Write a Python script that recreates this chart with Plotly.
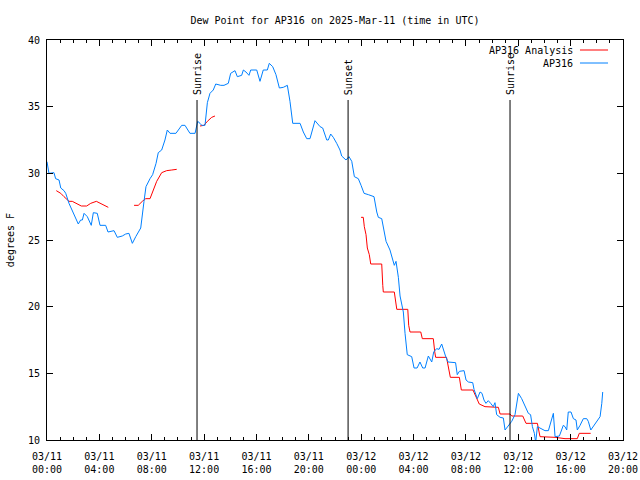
import plotly.graph_objects as go
import pandas as pd
from datetime import timedelta

# ---------------- data (hours since 2025-03-11 00:00 UTC, degrees F) ----------------
obs_hours = [0.00, 0.15, 0.53, 0.66, 0.92, 1.05, 1.30, 1.43, 1.68, 2.06, 2.39, 2.57, 2.70, 2.83,
             3.08, 3.38, 3.54, 3.84, 4.05, 4.48, 4.66, 5.12, 5.37, 5.75, 6.01, 6.26, 6.52, 6.78,
             7.16, 7.41, 7.56, 7.87, 8.07, 8.33, 8.50, 8.76, 9.01, 9.19, 9.40, 9.85, 10.29, 10.54,
             10.92, 11.31, 11.51, 11.69, 11.82, 11.99, 12.07, 12.25, 12.45, 12.70, 12.89, 13.27,
             13.52, 13.85, 14.03, 14.36, 14.54, 14.87, 15.00, 15.20, 15.43, 15.56, 16.02, 16.27,
             16.52, 16.83, 16.98, 17.24, 17.49, 17.75, 18.05, 18.36, 18.56, 18.77, 19.33, 19.58,
             19.84, 20.09, 20.47, 20.86, 21.06, 21.37, 21.49, 21.67, 21.87, 22.13, 22.38, 22.51,
             22.84, 23.07, 23.28, 23.48, 23.78, 23.99, 24.22, 24.55, 24.98, 25.19, 25.31, 25.57,
             25.75, 25.90, 26.20, 26.41, 26.53, 26.66, 26.84, 26.97, 27.22, 27.35, 27.52, 27.86,
             28.04, 28.27, 28.49, 28.70, 28.88, 29.13, 29.39, 29.54, 29.76, 29.95, 30.15, 30.44,
             30.63, 31.21, 31.34, 31.50, 31.86, 32.01, 32.19, 32.52, 32.62, 32.87, 33.08, 33.23,
             33.38, 33.53, 33.71, 33.89, 34.09, 34.22, 34.35, 34.61, 34.86, 34.99, 35.24, 35.50,
             35.75, 36.01, 36.26, 36.52, 36.77, 36.94, 37.08, 37.23, 37.33, 37.46, 37.66, 38.04,
             38.30, 38.56, 38.68, 38.81, 39.14, 39.44, 39.57, 39.70, 39.82, 40.03, 40.21, 40.41,
             40.51, 40.72, 40.97, 41.23, 41.35, 41.54, 41.73, 41.99, 42.25, 42.38, 42.45]
obs_dewpt = [30.87, 30.00, 30.05, 29.60, 29.50, 28.90, 28.70, 28.50, 27.75, 26.90, 26.20, 26.50, 26.50, 27.00,
             26.75, 26.10, 27.05, 27.00, 26.10, 26.10, 25.60, 25.70, 25.20, 25.30, 25.45, 25.50, 24.75, 25.25,
             25.90, 27.90, 29.00, 29.60, 29.90, 30.75, 31.55, 31.75, 32.50, 33.25, 33.00, 33.00, 33.60, 33.60,
             33.00, 33.00, 33.90, 33.75, 33.60, 33.60, 33.60, 35.30, 36.00, 36.25, 36.70, 36.60,
             36.60, 36.75, 37.50, 37.70, 37.25, 37.35, 37.75, 37.60, 37.35, 37.75, 37.75, 36.90,
             37.75, 37.75, 38.25, 38.00, 37.40, 36.40, 36.45, 36.60, 35.40, 33.75, 33.75, 33.10,
             32.60, 32.60, 33.95, 33.50, 33.40, 32.50, 32.50, 32.95, 32.70, 32.25, 31.75, 31.30,
             31.00, 31.25, 30.90, 29.75, 29.60, 29.10, 28.50, 28.40, 28.25, 27.10, 26.70, 26.60,
             25.75, 24.90, 24.25, 23.50, 23.10, 23.40, 22.20, 20.80, 19.60, 18.00, 16.40, 16.25,
             15.40, 15.40, 15.85, 15.40, 15.40, 16.30, 15.85, 16.60, 16.85, 16.80, 17.20, 16.30,
             15.85, 15.80, 14.90, 15.15, 15.20, 14.50, 14.35, 14.30, 13.80, 13.10, 13.60, 13.50,
             13.00, 12.75, 12.95, 12.75, 12.50, 12.80, 11.90, 11.70, 11.65, 10.75, 11.10, 11.40,
             11.90, 13.50, 13.10, 12.60, 12.00, 11.90, 11.00, 10.50, 9.80, 11.00, 10.90, 10.70,
             10.70, 11.60, 12.00, 10.25, 10.30, 11.10, 11.00, 10.75, 12.10, 12.10, 11.60, 11.50,
             10.75, 11.10, 11.60, 11.60, 11.40, 10.75, 11.00, 11.40, 11.75, 12.75, 13.60]

ana_hours = [0.71, 1.05, 1.30, 1.68, 1.93, 2.31, 2.62, 3.03, 3.34, 3.77, 4.10, 4.68, None,
             6.65, 6.97, 7.28, 7.54, 7.87, 8.07, 8.38, 8.76, 9.14, 9.53, 9.91, None,
             11.69, 11.99, 12.25, 12.58, 12.83, None,
             23.99, 24.16, 24.24, 24.37, 24.47, 24.62, 24.73, 25.57, 25.65, 25.69, 26.53, 26.64,
             26.72, 27.56, 27.63, 27.73, 28.55, 28.67, 29.51, 29.62, 29.69, 30.52, 30.63, 30.81,
             31.50, 31.65, 32.54, 32.77, 33.02, 33.46, 34.48, 34.61, 35.37, 35.50, 36.34, 36.59,
             37.46, 37.66, 38.81, 39.57, 40.51, 40.66, 41.53]
ana_dewpt = [28.70, 28.50, 28.25, 27.90, 27.90, 27.70, 27.55, 27.55, 27.75, 27.90, 27.75, 27.45, None,
             27.60, 27.60, 27.90, 28.10, 28.10, 28.60, 29.40, 30.05, 30.20, 30.25, 30.30, None,
             33.55, 33.60, 33.90, 34.20, 34.30, None,
             26.70, 26.70, 26.00, 25.40, 24.40, 23.90, 23.20, 23.20, 21.60, 21.10, 21.10, 20.10,
             19.80, 19.80, 18.60, 18.10, 18.10, 17.60, 17.60, 16.60, 16.20, 16.20, 15.60, 14.70,
             14.70, 13.75, 13.75, 13.25, 12.70, 12.50, 12.45, 11.95, 11.95, 11.80, 11.80, 11.25,
             11.25, 10.25, 10.20, 10.10, 10.10, 10.50, 10.50]

sun_labels = ["Sunrise", "Sunset", "Sunrise"]
sun_hours = [11.46, 23.00, 35.37]

tick_hours = [0, 4, 8, 12, 16, 20, 24, 28, 32, 36, 40, 44]
tick_labels = ["03/11<br>00:00", "03/11<br>04:00", "03/11<br>08:00", "03/11<br>12:00",
               "03/11<br>16:00", "03/11<br>20:00", "03/12<br>00:00", "03/12<br>04:00",
               "03/12<br>08:00", "03/12<br>12:00", "03/12<br>16:00", "03/12<br>20:00"]

base = pd.Timestamp("2025-03-11 00:00")


def to_time(hs):
    return [None if h is None else base + timedelta(hours=h) for h in hs]


FONT = dict(family="DejaVu Sans Mono", size=10, color="black")
RED = "#ff0000"
BLUE = "#0080ff"

fig = go.Figure()
fig.add_trace(go.Scatter(x=to_time(ana_hours), y=ana_dewpt, mode="lines", name="AP316 Analysis",
                         line=dict(color=RED, width=1), connectgaps=False, showlegend=False))
fig.add_trace(go.Scatter(x=to_time(obs_hours), y=obs_dewpt, mode="lines", name="AP316",
                         line=dict(color=BLUE, width=1), showlegend=False))

# Sunrise / sunset markers
for lab, h in zip(sun_labels, sun_hours):
    t = base + timedelta(hours=h)
    fig.add_shape(type="line", x0=t, x1=t, y0=10, y1=35.5, xref="x", yref="y",
                  line=dict(color="black", width=1))
    fig.add_annotation(x=t, y=35.72, xref="x", yref="y", text=lab, textangle=-90,
                       showarrow=False, xanchor="center", yanchor="bottom", font=FONT)

# gnuplot-style legend (text left of sample line)
leg = [("AP316 Analysis", RED, 0.975), ("AP316", BLUE, 0.9425)]
for txt, col, yy in leg:
    fig.add_annotation(x=0.9167, y=yy, xref="paper", yref="paper", text=txt, showarrow=False,
                       xanchor="right", yanchor="middle", font=FONT)
    fig.add_shape(type="line", x0=0.9253, x1=0.974, y0=yy, y1=yy, xref="paper", yref="paper",
                  line=dict(color=col, width=1))

# y axis title
fig.add_annotation(x=-0.064, y=0.5, xref="paper", yref="paper", text="degrees F", textangle=-90,
                   showarrow=False, xanchor="center", yanchor="middle", font=FONT)

fig.update_layout(
    width=640, height=480,
    margin=dict(l=47, r=17, t=40, b=40, autoexpand=False),
    paper_bgcolor="white", plot_bgcolor="white",
    font=FONT,
    hovermode=False,
    title=dict(text="Dew Point for AP316 on 2025-Mar-11 (time in UTC)", x=0.5, xref="paper",
               y=0.958, yref="container", yanchor="middle", font=FONT),
    showlegend=False,
)
fig.update_xaxes(
    type="date", automargin=False,
    range=[base, base + timedelta(hours=44)],
    tickmode="array", tickvals=to_time(tick_hours), ticktext=tick_labels,
    ticks="inside", ticklen=6, tickcolor="black", mirror="ticks",
    showline=True, linecolor="black", linewidth=1, showgrid=False, zeroline=False,
    minor=dict(dtick=3600000, ticks="inside", ticklen=3, tickcolor="black", showgrid=False),
    tickfont=FONT, ticklabelstandoff=7,
)
fig.update_yaxes(
    range=[10, 40], tickmode="array", tickvals=[10, 15, 20, 25, 30, 35, 40], automargin=False,
    ticks="inside", ticklen=6, tickcolor="black", mirror="ticks",
    showline=True, linecolor="black", linewidth=1, showgrid=False, zeroline=False,
    tickfont=FONT, ticklabelstandoff=4,
)

# remove the browser's default 8px page margin so the figure fills the 640x480 window exactly
fig.write_html("out.html", config={"displayModeBar": False, "staticPlot": True},
               post_script="document.body.style.margin='0px';document.body.style.overflow='hidden';")
